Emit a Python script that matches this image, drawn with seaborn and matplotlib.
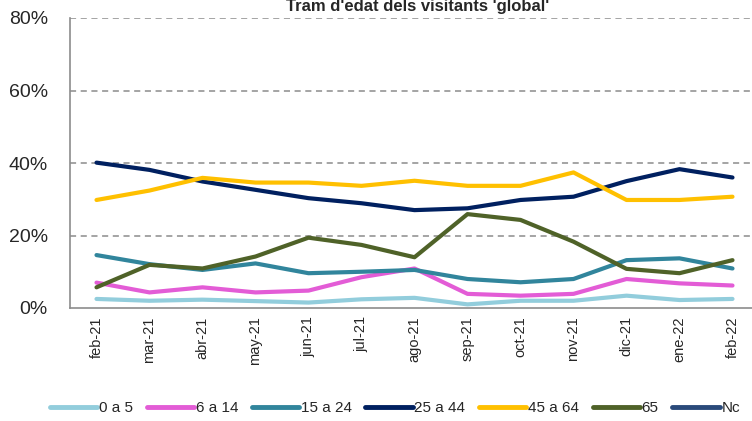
import numpy as np
import pandas as pd
import matplotlib
matplotlib.use("Agg")
import matplotlib.pyplot as plt
from matplotlib.lines import Line2D
from matplotlib.ticker import FixedLocator
import seaborn as sns

months = ["feb-21", "mar-21", "abr-21", "may-21", "jun-21", "jul-21", "ago-21",
          "sep-21", "oct-21", "nov-21", "dic-21", "ene-22", "feb-22"]

age_0_5 = [2.5, 2.0, 2.3, 1.9, 1.5, 2.4, 2.8, 1.0, 2.0, 2.0, 3.4, 2.2, 2.5]
age_6_14 = [7.0, 4.3, 5.7, 4.3, 4.8, 8.5, 10.9, 3.9, 3.4, 3.9, 8.0, 6.8, 6.2]
age_15_24 = [14.6, 12.1, 10.5, 12.3, 9.6, 10.0, 10.5, 8.0, 7.1, 8.0, 13.2, 13.7, 10.9]
age_25_44 = [40.1, 38.1, 34.9, 32.6, 30.3, 28.9, 27.0, 27.5, 29.8, 30.7, 35.0, 38.3, 36.0]
age_45_64 = [29.8, 32.4, 35.9, 34.6, 34.6, 33.7, 35.1, 33.7, 33.7, 37.4, 29.8, 29.8, 30.7]
age_65 = [5.7, 11.9, 10.9, 14.2, 19.4, 17.4, 14.0, 25.9, 24.3, 18.3, 10.8, 9.6, 13.2]
age_nc = [np.nan] * len(months)

series_names = ["0 a 5", "6 a 14", "15 a 24", "25 a 44", "45 a 64", "65", "Nc"]
series_vals = [age_0_5, age_6_14, age_15_24, age_25_44, age_45_64, age_65, age_nc]
colors = ["#92CDDC", "#E35CD6", "#31859C", "#002060", "#FFC000", "#4F6228", "#2A4A7A"]
palette = dict(zip(series_names, colors))

rows = []
for name, vals in zip(series_names, series_vals):
    for m, v in zip(months, vals):
        rows.append({"mes": m, "serie": name, "valor": v})
df = pd.DataFrame(rows)
df_plot = df.dropna()  # Nc has no values, only shows in legend

sns.set_style("white")
plt.rcParams["font.family"] = ["Liberation Sans", "DejaVu Sans"]

fig = plt.figure(figsize=(7.52, 4.21), dpi=100)
ax = fig.add_axes([70 / 752, (421 - 308) / 421, (752 - 70) / 752, 290 / 421])

sns.lineplot(data=df_plot, x="mes", y="valor", hue="serie",
             hue_order=series_names[:-1], palette=palette,
             linewidth=3.0, legend=False, ax=ax, sort=False)

ax.set_xlim(-0.5, -0.5 + 682 / 53)
ax.set_ylim(0, 80)
ax.set_yticks([0, 20, 40, 60, 80])
ax.set_yticklabels([f"{v}%" for v in [0, 20, 40, 60, 80]], fontsize=14)
for y in [20, 40, 60, 80]:
    ax.axhline(y, color="#8C8C8C", linestyle=(0, (4, 3)), linewidth=1.1, zorder=0)

ax.set_xticks(range(len(months)))
ax.set_xticklabels(months, rotation=90, fontsize=10.5)
ax.tick_params(axis="x", which="major", length=0, pad=6)
ax.xaxis.set_minor_locator(FixedLocator(np.arange(-0.5, len(months) + 0.5, 1)))
ax.tick_params(axis="x", which="minor", length=6, width=1.2, color="#8C8C8C", direction="out")
ax.tick_params(axis="y", length=0, pad=16)
ax.set_xlabel("")
ax.set_ylabel("")

for s in ["top", "right"]:
    ax.spines[s].set_visible(False)
for s in ["left", "bottom"]:
    ax.spines[s].set_color("#8C8C8C")
    ax.spines[s].set_linewidth(1.2)

fig.text(418 / 752, 1 - 7 / 421, "Tram d'edat dels visitants 'global'",
         ha="center", va="center", fontsize=12, fontweight="bold")

handles = [Line2D([0], [0], color=c, linewidth=3.5) for c in colors]
fig.legend(handles, series_names, loc="center", bbox_to_anchor=(395 / 752, 1 - 408 / 421),
           ncol=7, frameon=False, fontsize=11, handlelength=3.1,
           handletextpad=0.1, columnspacing=0.9)

fig.savefig("out.png", dpi=100)
